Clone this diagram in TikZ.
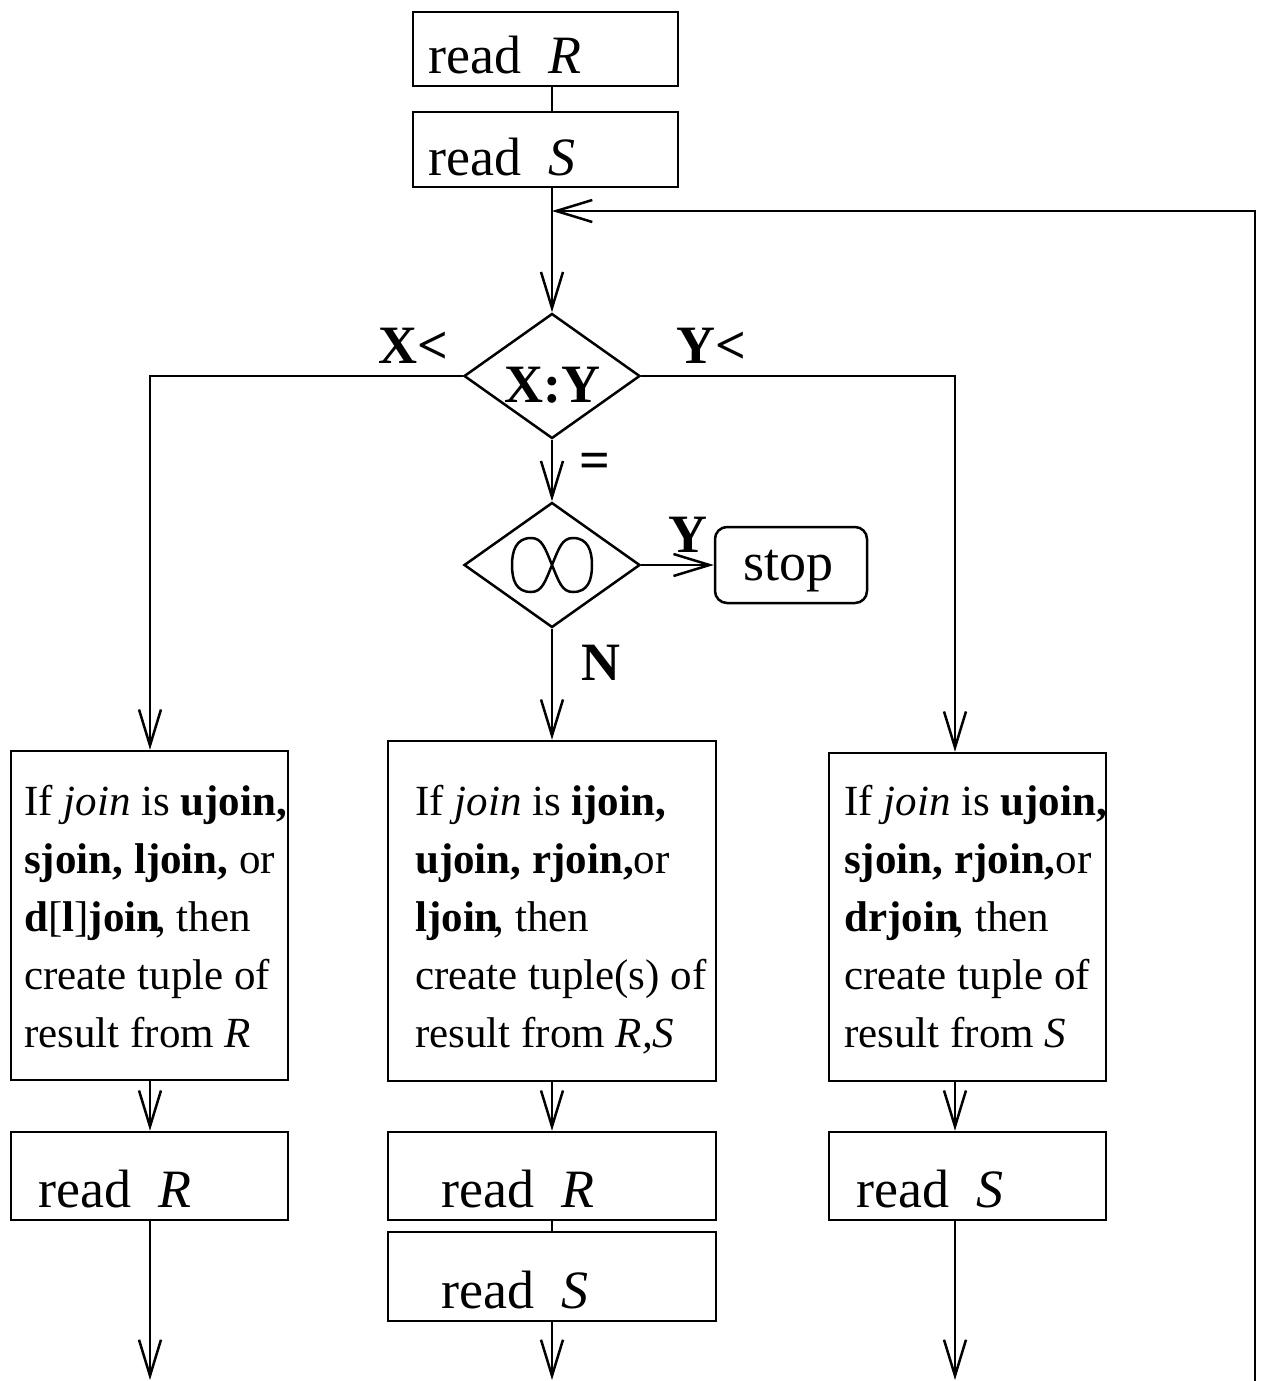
\documentclass[tikz,border=0pt]{standalone}
\usepackage{fontspec}
\setmainfont{Liberation Serif}
\usetikzlibrary{arrows.meta,shapes.geometric}
\begin{document}
\begin{tikzpicture}[x=1pt,y=-1pt,line width=2.5pt,
  arr/.style={-{Straight Barb[length=36pt,width=22pt]}},
  box/.style={draw,rectangle,inner sep=0pt,minimum width=#1},
  dia/.style={draw,diamond,inner sep=0pt,minimum width=176pt,minimum height=125pt},
  txt/.style={anchor=base west,inner sep=0pt,font=\fontsize{43pt}{58pt}\selectfont,align=left},
  rd/.style={anchor=base west,inner sep=0pt,font=\fontsize{54pt}{60pt}\selectfont},
  lbl/.style={anchor=base west,inner sep=0pt,font=\fontsize{54pt}{60pt}\selectfont\bfseries}]
\useasboundingbox (0,0) rectangle (1261,1381);

% initial reads
\node[box=265pt,minimum height=74pt] (r0) at (545.5,49) {};
\node[rd] (r0t) at (427,74) {read\ \ \textit{R}};
\node[box=265pt,minimum height=75pt] (s0) at (545.5,149.5) {};
\node[rd] (s0t) at (427,175) {read\ \ \textit{S}};

% comparison
\node[dia] (cmp) at (552,376) {};
\node[lbl] (cmpt) at (503,402) {X:Y};
\node[lbl] (xl) at (377,363) {X<};
\node[lbl] (yl) at (675,363) {Y<};
\node[lbl] (eq) at (578,478) {=};

% end-of-input test
\node[dia] (eof) at (552,565) {};
\draw (552,565) .. controls (545,548) and (542,538) .. (531,538)
  .. controls (516,538) and (512,551) .. (512,565)
  .. controls (512,580) and (516,592) .. (531,592)
  .. controls (542,592) and (545,582) .. (552,565)
  .. controls (559,548) and (562,538) .. (573,538)
  .. controls (588,538) and (592,551) .. (592,565)
  .. controls (592,580) and (588,592) .. (573,592)
  .. controls (562,592) and (559,582) .. (552,565);
\node[lbl] (yy) at (667,552) {Y};
\node[lbl] (nn) at (580,680) {N};
\node[draw,rounded corners=12pt,inner sep=0pt,minimum width=152pt,minimum height=76pt] (stop) at (791,565) {};
\node[rd] (stopt) at (742,580) {stop};

% action boxes (text nodes anchored on their last baseline)
\node[box=277pt,minimum height=329pt] (bl) at (149.5,915.5) {};
\node[txt] (blt) at (23,1047) {If \textit{join} is \textbf{ujoin,}\\
\textbf{sjoin,\ ljoin,} or\\
\textbf{d}[\textbf{l}]\textbf{join}\kern-0.12em, then\\
create tuple of\\
result from \textit{R}};
\node[box=328pt,minimum height=340pt] (bc) at (552,911) {};
\node[txt] (bct) at (414,1047) {If \textit{join} is \textbf{ijoin,}\\
\textbf{ujoin, rjoin,}or\\
\textbf{ljoin}\kern-0.12em, then\\
create tuple(s) of\\
result from \textit{R,S}};
\node[box=277pt,minimum height=328pt] (br) at (967.5,917) {};
\node[txt] (brt) at (843,1047) {If \textit{join} is \textbf{ujoin,}\\
\textbf{sjoin,\ rjoin,}or\\
\textbf{drjoin}\kern-0.12em, then\\
create tuple of\\
result from \textit{S}};

% follow-up reads
\node[box=277pt,minimum height=88pt] (rl) at (149.5,1176) {};
\node[rd] (rlt) at (37,1207) {read\ \ \textit{R}};
\node[box=328pt,minimum height=88pt] (rc) at (552,1176) {};
\node[rd] (rct) at (440,1207) {read\ \ \textit{R}};
\node[box=328pt,minimum height=89pt] (sc) at (552,1276.5) {};
\node[rd] (sct) at (440,1308) {read\ \ \textit{S}};
\node[box=277pt,minimum height=88pt] (rr) at (967.5,1176) {};
\node[rd] (rrt) at (855,1207) {read\ \ \textit{S}};

% free ends
\coordinate (ol) at (150,1380);
\coordinate (oc) at (552,1380);
\coordinate (or) at (955,1380);
\coordinate (back) at (1255,1381);
\coordinate (turn) at (1255,211);
\coordinate (join) at (552,211);

% connectors
\draw (r0.south -| cmp) -- (s0.north -| cmp);
\draw[arr] (s0.south -| cmp) -- (cmp);
\draw[arr] (back) -- (turn) -- (join);
\draw[arr] (cmp.west) -| (bl.north -| ol);
\draw[arr] (cmp.east) -| (br.north -| or);
\draw[arr] (cmp) -- (eof);
\draw[arr] (eof.east) -- (stop.west);
\draw[arr] (eof) -- (bc);
\draw[arr] (bl.south -| ol) -- (rl.north -| ol);
\draw[arr] (bc) -- (rc);
\draw[arr] (br.south -| or) -- (rr.north -| or);
\draw (rc) -- (sc);
\draw[arr] (rl.south -| ol) -- (ol);
\draw[arr] (sc) -- (oc);
\draw[arr] (rr.south -| or) -- (or);
\end{tikzpicture}
\end{document}
